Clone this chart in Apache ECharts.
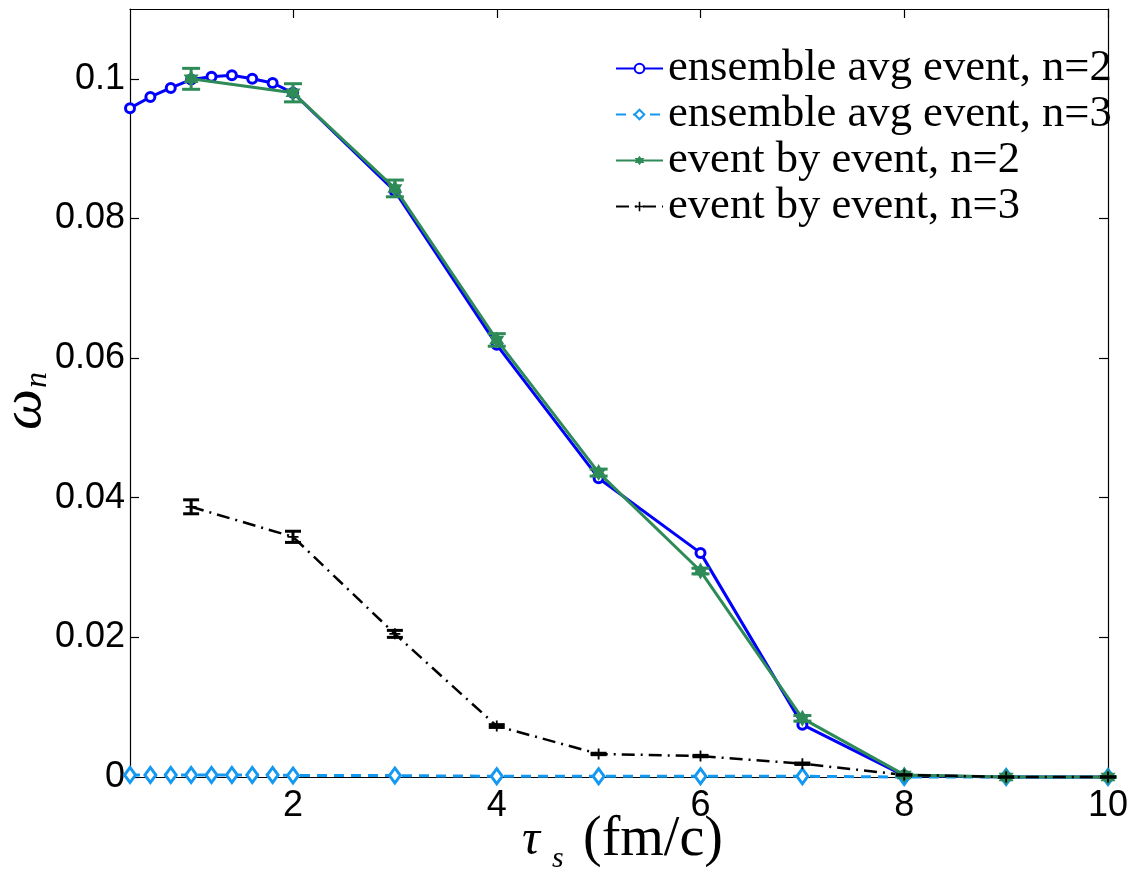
<!DOCTYPE html>
<html>
<head>
<meta charset="utf-8">
<script src="https://cdn.jsdelivr.net/npm/echarts@6/dist/echarts.min.js"></script>
<style>
  html, body { margin: 0; padding: 0; background: #fff; }
  #chart { width: 1132px; height: 872px; }
</style>
</head>
<body>
<div id="chart"></div>
<script>
// Ensemble-averaged initial conditions
const avgTau = [0.4, 0.6, 0.8, 1.0, 1.2, 1.4, 1.6, 1.8, 2, 3, 4, 5, 6, 7, 8, 9, 10];
const avgN2  = [0.0958, 0.0974, 0.0987, 0.0999, 0.1003, 0.1005, 0.1000, 0.0994, 0.0980,
                0.0839, 0.0619, 0.0428, 0.0321, 0.0075, 0.0002, 0, 0];
const avgN3  = [0.0003, 0.0003, 0.0003, 0.0003, 0.0003, 0.0003, 0.0003, 0.0003, 0.0002,
                0.0002, 0.0001, 0.0001, 0.0001, 0.0001, 0, 0, 0];

// Event-by-event results with statistical errors
const ebeTau   = [1, 2, 3, 4, 5, 6, 7, 8, 9, 10];
const ebeN2    = [0.1000, 0.0980, 0.0843, 0.0626, 0.0436, 0.0295, 0.0084, 0.0003, 0, 0];
const ebeN2Err = [0.0015, 0.0013, 0.0012, 0.0009, 0.0005, 0.0004, 0.0004, 0.0001, 0, 0];
const ebeN3    = [0.0387, 0.0344, 0.0205, 0.0073, 0.0033, 0.0030, 0.0019, 0.0003, 0, 0];
const ebeN3Err = [0.0010, 0.0008, 0.0005, 0.0002, 0.0001, 0.0001, 0.0001, 0, 0, 0];

const xTicks = [2, 4, 6, 8, 10];
const yTicks = [0, 0.02, 0.04, 0.06, 0.08, 0.1];
const seriesNames = [
  'ensemble avg event, n=2',
  'ensemble avg event, n=3',
  'event by event, n=2',
  'event by event, n=3'
];

const BLUE = '#0000ff';
const LIGHTBLUE = '#1499f2';
const GREEN = '#2e8b57';
const BLACK = '#000000';

const HEXAGRAM = 'path://M0,-10 L2.9,-5 L8.66,-5 L5.8,0 L8.66,5 L2.9,5 L0,10 L-2.9,5 L-8.66,5 L-5.8,0 L-8.66,-5 L-2.9,-5 Z';
const PLUS = 'path://M-1,-6 H1 V-1 H6 V1 H1 V6 H-1 V1 H-6 V-1 H-1 Z';

const pairs = (xs, ys) => xs.map((x, i) => [x, ys[i]]);
const triples = (xs, ys, es) => xs.map((x, i) => [x, ys[i], es[i]]);

function errorBars(color, lineWidth, capHalf) {
  return function (params, api) {
    const x = api.value(0), y = api.value(1), e = api.value(2);
    const hi = api.coord([x, y + e]);
    const lo = api.coord([x, y - e]);
    const st = { stroke: color, lineWidth: lineWidth };
    return {
      type: 'group',
      children: [
        { type: 'line', shape: { x1: hi[0], y1: hi[1], x2: lo[0], y2: lo[1] }, style: st },
        { type: 'line', shape: { x1: hi[0] - capHalf, y1: hi[1], x2: hi[0] + capHalf, y2: hi[1] }, style: st },
        { type: 'line', shape: { x1: lo[0] - capHalf, y1: lo[1], x2: lo[0] + capHalf, y2: lo[1] }, style: st }
      ]
    };
  };
}

const frameLine = { show: true, onZero: false, lineStyle: { color: '#000', width: 1.2 } };
const innerTick = { show: true, inside: true, length: 9, lineStyle: { color: '#000', width: 1.2 } };
const tickFont = { fontFamily: 'Liberation Sans, Arial, sans-serif', fontSize: 36, color: '#000' };

const chart = echarts.init(document.getElementById('chart'), null, { renderer: 'canvas' });

chart.setOption({
  animation: false,
  backgroundColor: '#fff',
  grid: { left: 130, right: 24, top: 9, bottom: 95, containLabel: false },
  xAxis: [
    {
      type: 'value', min: 0.4, max: 10, position: 'bottom',
      axisLine: frameLine,
      axisTick: Object.assign({ customValues: xTicks }, innerTick),
      axisLabel: Object.assign({ customValues: xTicks, margin: 11, formatter: v => String(v) }, tickFont),
      splitLine: { show: false }
    },
    {
      type: 'value', min: 0.4, max: 10, position: 'top',
      axisLine: frameLine,
      axisTick: Object.assign({ customValues: xTicks }, innerTick),
      axisLabel: { show: false },
      splitLine: { show: false }
    }
  ],
  yAxis: [
    {
      type: 'value', min: 0, max: 0.11, position: 'left',
      axisLine: frameLine,
      axisTick: Object.assign({ customValues: yTicks }, innerTick),
      axisLabel: Object.assign({
        customValues: yTicks, margin: 5,
        formatter: v => String(+v.toFixed(2))
      }, tickFont),
      splitLine: { show: false }
    },
    {
      type: 'value', min: 0, max: 0.11, position: 'right',
      axisLine: frameLine,
      axisTick: Object.assign({ customValues: yTicks }, innerTick),
      axisLabel: { show: false },
      splitLine: { show: false }
    }
  ],
  legend: {
    data: seriesNames,
    orient: 'vertical',
    left: 615,
    top: 46,
    itemWidth: 47,
    itemHeight: 12,
    itemGap: 1,
    padding: 0,
    textStyle: {
      fontFamily: 'Liberation Serif, Times New Roman, serif',
      fontSize: 44.6,
      lineHeight: 44,
      color: '#000'
    }
  },
  series: [
    {
      name: seriesNames[0], type: 'line', data: pairs(avgTau, avgN2), clip: false,
      symbol: 'circle', symbolSize: 9,
      lineStyle: { color: BLUE, width: 3 },
      itemStyle: { color: '#ffffff', borderColor: BLUE, borderWidth: 3 },
      z: 3
    },
    {
      name: seriesNames[1], type: 'line', data: pairs(avgTau, avgN3), clip: false,
      symbol: 'diamond', symbolSize: [11, 15],
      lineStyle: { color: LIGHTBLUE, width: 3, type: [10, 7] },
      itemStyle: { color: '#ffffff', borderColor: LIGHTBLUE, borderWidth: 3 },
      z: 3
    },
    {
      name: seriesNames[2], type: 'line', data: pairs(ebeTau, ebeN2), clip: false,
      symbol: HEXAGRAM, symbolSize: [15, 17],
      lineStyle: { color: GREEN, width: 3 },
      itemStyle: { color: GREEN },
      z: 4
    },
    {
      name: seriesNames[3], type: 'line', data: pairs(ebeTau, ebeN3), clip: false,
      symbol: PLUS, symbolSize: 11,
      lineStyle: { color: BLACK, width: 2.5, type: [13, 6, 2, 6] },
      itemStyle: { color: BLACK },
      z: 4
    },
    {
      name: 'err-ebe-n2', type: 'custom', data: triples(ebeTau, ebeN2, ebeN2Err),
      renderItem: errorBars(GREEN, 3, 9), clip: false, z: 5, silent: true
    },
    {
      name: 'err-ebe-n3', type: 'custom', data: triples(ebeTau, ebeN3, ebeN3Err),
      renderItem: errorBars(BLACK, 3, 8), clip: false, z: 5, silent: true
    }
  ],
  graphic: [
    // x-axis title: tau_s (fm/c)
    { type: 'text', x: 522, y: 866, style: { text: '\u03c4', font: 'italic 50px "Liberation Serif", serif', fill: '#000', textAlign: 'left', textVerticalAlign: 'bottom' } },
    { type: 'text', x: 552, y: 874, style: { text: 's', font: 'italic 30px "Liberation Serif", serif', fill: '#000', textAlign: 'left', textVerticalAlign: 'bottom' } },
    { type: 'text', x: 583, y: 868, style: { text: '(fm/c)', font: '56px "Liberation Serif", serif', fill: '#000', textAlign: 'left', textVerticalAlign: 'bottom' } },
    // y-axis title: omega_n
    { type: 'text', x: 54, y: 430, rotation: Math.PI / 2, style: { text: '\u03c9', font: 'italic 58px "Liberation Serif", serif', fill: '#000', textAlign: 'left', textVerticalAlign: 'bottom' } },
    { type: 'text', x: 54, y: 388, rotation: Math.PI / 2, style: { text: 'n', font: 'italic 32px "Liberation Serif", serif', fill: '#000', textAlign: 'left', textVerticalAlign: 'bottom' } }
  ]
});
</script>
</body>
</html>
